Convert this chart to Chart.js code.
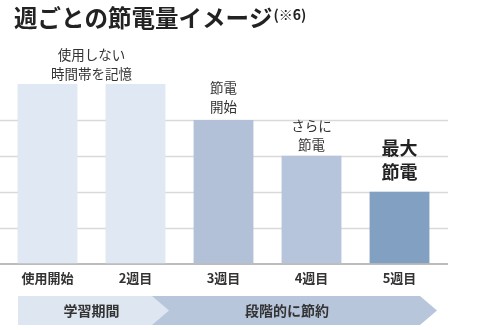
<!DOCTYPE html>
<html>
<head>
<meta charset="utf-8">
<script src="https://cdn.jsdelivr.net/npm/chart.js@4/dist/chart.umd.min.js"></script>
<style>
html,body{margin:0;padding:0;background:#fff;}
#wrap{position:relative;width:480px;height:330px;}
</style>
</head>
<body>
<div id="wrap"><canvas id="c" width="480" height="330"></canvas></div>
<script>
const titleMain = "週ごとの節電量イメージ";
const titleNote = "(※6)";
const categories = ["使用開始", "2週目", "3週目", "4週目", "5週目"];
const values = [5, 5, 4, 3, 2];
const barColors = ["#dfe8f3", "#dfe8f3", "#b2c1d8", "#b6c5db", "#82a0c1"];
const gridValues = [1, 2, 3, 4];
const noteLines1 = ["使用しない", "時間帯を記憶"];
const noteLines3 = ["節電", "開始"];
const noteLines4 = ["さらに", "節電"];
const noteLines5 = ["最大", "節電"];
const phaseLabels = ["学習期間", "段階的に節約"];

const FONT = '"Noto Sans CJK JP", "Noto Sans", sans-serif';

const deco = {
  id: 'deco',
  beforeDatasetsDraw(chart) {
    const ctx = chart.ctx, y = chart.scales.y;
    ctx.save();
    ctx.strokeStyle = '#d9d9d9';
    ctx.lineWidth = 1.5;
    gridValues.forEach(v => {
      const py = Math.round(y.getPixelForValue(v)) + 0.5;
      ctx.beginPath(); ctx.moveTo(0, py); ctx.lineTo(448, py); ctx.stroke();
    });
    ctx.strokeStyle = '#a6a6a6';
    ctx.lineWidth = 1.5;
    const by = y.getPixelForValue(0) + 0.5;
    ctx.beginPath(); ctx.moveTo(0, by); ctx.lineTo(448, by); ctx.stroke();
    ctx.restore();
  },
  afterDatasetsDraw(chart) {
    const ctx = chart.ctx, x = chart.scales.x, y = chart.scales.y;
    ctx.save();
    ctx.textBaseline = 'middle';
    ctx.textAlign = 'left';
    ctx.fillStyle = '#222';
    ctx.font = 'bold 23.5px ' + FONT;
    ctx.fillText(titleMain, 14, 18);
    const w = ctx.measureText(titleMain).width;
    ctx.font = 'bold 14px ' + FONT;
    ctx.fillText(titleNote, 14 + w + 1, 15);
    ctx.textAlign = 'center';

    function note(lines, cx, topVal, gap, lh, font, color) {
      const ty = y.getPixelForValue(topVal);
      ctx.font = font;
      ctx.fillStyle = color;
      const n = lines.length;
      lines.forEach((t, i) => {
        ctx.fillText(t, cx, ty - gap - (n - 1 - i) * lh);
      });
    }
    const c = i => x.getPixelForValue(i);
    note(noteLines1, (c(0) + c(1)) / 2, values[0], 10, 19, '13.5px ' + FONT, '#333');
    note(noteLines3, c(2), values[2], 13, 19, '13.5px ' + FONT, '#333');
    note(noteLines4, c(3), values[3], 11, 19, '13.5px ' + FONT, '#333');
    note(noteLines5, c(4), values[4], 19, 24, 'bold 18px ' + FONT, '#222');

    const top = 296, bot = 325, mid = (top + bot) / 2, d = 17;
    const l0 = c(0) - 29.5, split = 152, r = c(4) + 37.5;
    ctx.fillStyle = '#b8c6db';
    ctx.beginPath();
    ctx.moveTo(split, top); ctx.lineTo(r - d, top); ctx.lineTo(r, mid);
    ctx.lineTo(r - d, bot); ctx.lineTo(split, bot); ctx.closePath(); ctx.fill();
    ctx.fillStyle = '#dee7f1';
    ctx.beginPath();
    ctx.moveTo(l0, top); ctx.lineTo(split, top); ctx.lineTo(split + d, mid);
    ctx.lineTo(split, bot); ctx.lineTo(l0, bot); ctx.closePath(); ctx.fill();
    ctx.font = 'bold 14px ' + FONT;
    ctx.fillStyle = '#333';
    ctx.fillText(phaseLabels[0], (c(0) + c(1)) / 2, mid);
    ctx.fillText(phaseLabels[1], 287, mid);
    ctx.restore();
  }
};

new Chart(document.getElementById('c'), {
  type: 'bar',
  data: {
    labels: categories,
    datasets: [{
      data: values,
      backgroundColor: barColors,
      borderWidth: 0,
      barPercentage: 0.68,
      categoryPercentage: 1.0
    }]
  },
  options: {
    responsive: false,
    animation: false,
    devicePixelRatio: 1,
    layout: { padding: { left: 3.5, right: 36.5, top: 84, bottom: 37 } },
    plugins: { legend: { display: false }, tooltip: { enabled: false } },
    scales: {
      x: {
        grid: { display: false, drawTicks: false },
        border: { display: false },
        ticks: { padding: 7, color: '#333', font: { family: FONT, size: 13, weight: 'bold' } }
      },
      y: {
        display: false,
        min: 0, max: 5
      }
    }
  },
  plugins: [deco]
});
</script>
</body>
</html>
